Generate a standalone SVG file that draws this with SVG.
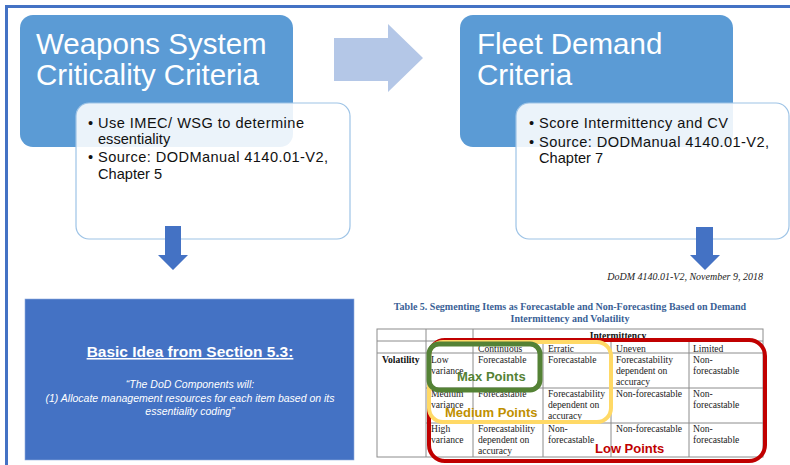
<svg xmlns="http://www.w3.org/2000/svg" width="790" height="465" viewBox="0 0 790 465">
<defs>
<style>
.head{fill:#5B9BD5}
.card{fill:#FFFFFF;fill-opacity:0.88;stroke:#9DC3E6;stroke-width:1.2}
.title{font-family:"Liberation Sans",Arial,sans-serif;font-size:29.5px;fill:#FFFFFF}
.bul{font-family:"Liberation Sans",Arial,sans-serif;font-size:14.6px;fill:#111111}
.dn{fill:#4472C4}
.tt{font-family:"Liberation Serif","Times New Roman",serif;font-size:9.6px;fill:#222222}
.tb{font-family:"Liberation Serif","Times New Roman",serif;font-size:9.6px;font-weight:bold;fill:#111111}
.cap{font-family:"Liberation Serif","Times New Roman",serif;font-size:10px;font-weight:bold;fill:#3A5F96}
.grid{stroke:#8C8C8C;stroke-width:1;fill:none}
.hl{fill:none}
.lab{font-family:"Liberation Sans",Arial,sans-serif;font-size:13px;font-weight:bold}
</style>
</defs>
<rect width="790" height="465" fill="#FFFFFF"/>
<!-- frame -->
<path d="M6.5,465 V6.5 H790" fill="none" stroke="#4472C4" stroke-width="3"/>

<g id="node-weapons">
<rect class="head" x="20" y="15" width="273" height="132" rx="13"/>
<text class="title" x="36" y="54">Weapons System</text>
<text class="title" x="36" y="85">Criticality Criteria</text>
</g>
<g id="node-weapons-detail">
<rect class="card" x="76" y="103" width="274" height="136" rx="13"/>
<text class="bul" x="88" y="128">•</text>
<text class="bul" x="98" y="128" textLength="206" lengthAdjust="spacing">Use IMEC/ WSG to determine</text>
<text class="bul" x="98" y="144">essentiality</text>
<text class="bul" x="88" y="162">•</text>
<text class="bul" x="98" y="162" textLength="230" lengthAdjust="spacing">Source: DODManual 4140.01-V2,</text>
<text class="bul" x="98" y="179">Chapter 5</text>
</g>

<g id="node-fleet">
<rect class="head" x="460" y="15" width="273" height="132" rx="13"/>
<text class="title" x="477" y="54">Fleet Demand</text>
<text class="title" x="477" y="85">Criteria</text>
</g>
<g id="node-fleet-detail">
<rect class="card" x="516" y="103" width="273" height="136" rx="13"/>
<text class="bul" x="529" y="128">•</text>
<text class="bul" x="539" y="128" textLength="189" lengthAdjust="spacing">Score Intermittency and CV</text>
<text class="bul" x="529" y="147">•</text>
<text class="bul" x="539" y="147" textLength="230" lengthAdjust="spacing">Source: DODManual 4140.01-V2,</text>
<text class="bul" x="539" y="163">Chapter 7</text>
</g>

<g id="connectors">
<polygon fill="#B4C7E7" points="334,38 388,38 388,24 423,58 388,92 388,81 334,81"/>
<polygon class="dn" points="165,226 181,226 181,255 188,255 173,270 158,255 165,255"/>
<polygon class="dn" points="696,227 713,227 713,255 720,255 705,270 690,255 696,255"/>
</g>

<g id="node-basic-idea">
<rect x="25" y="299" width="329" height="161" fill="#4472C4" stroke="#8FAADC" stroke-width="0.6"/>
<text x="190" y="357" text-anchor="middle" font-family="'Liberation Sans',Arial,sans-serif" font-size="15.5" font-weight="bold" fill="#FFFFFF" text-decoration="underline">Basic Idea from Section 5.3:</text>
<g font-family="'Liberation Sans',Arial,sans-serif" font-size="10.5" font-style="italic" fill="#FFFFFF" text-anchor="middle">
<text x="190" y="388">“The DoD Components will:</text>
<text x="190" y="402">(1) Allocate management resources for each item based on its</text>
<text x="190" y="415">essentiality coding”</text>
</g>
</g>

<g id="node-table">
<text x="763" y="280" text-anchor="end" font-family="'Liberation Serif','Times New Roman',serif" font-size="10" font-style="italic" fill="#222222">DoDM 4140.01-V2, November 9, 2018</text>
<text class="cap" x="570" y="310" text-anchor="middle">Table 5.  Segmenting Items as Forecastable and Non-Forecasting Based on Demand</text>
<text class="cap" x="570" y="322" text-anchor="middle">Intermittency and Volatility</text>
<rect class="grid" x="377" y="329" width="386" height="128"/>
<path class="grid" d="M377,341 H763 M426,353 H763 M377,353 H426 M426,388 H763 M426,423 H763 M426,329 V457 M473,329 V457 M543,341 V457 M611,341 V457 M689,341 V457"/>
<text class="tb" x="618" y="339" text-anchor="middle">Intermittency</text>
<text class="tt" x="478" y="352">Continuous</text>
<text class="tt" x="548" y="352">Erratic</text>
<text class="tt" x="616" y="352">Uneven</text>
<text class="tt" x="693" y="352">Limited</text>
<text class="tb" x="382" y="363">Volatility</text>
<text class="tt" x="431" y="363">Low</text>
<text class="tt" x="431" y="374">variance</text>
<text class="tt" x="478" y="363">Forecastable</text>
<text class="tt" x="548" y="363">Forecastable</text>
<text class="tt" x="616" y="363">Forecastability</text>
<text class="tt" x="616" y="374">dependent on</text>
<text class="tt" x="616" y="385">accuracy</text>
<text class="tt" x="693" y="363">Non-</text>
<text class="tt" x="693" y="374">forecastable</text>
<text class="tt" x="431" y="397">Medium</text>
<text class="tt" x="431" y="408">variance</text>
<text class="tt" x="478" y="397">Forecastable</text>
<text class="tt" x="548" y="397">Forecastability</text>
<text class="tt" x="548" y="408">dependent on</text>
<text class="tt" x="548" y="419">accuracy</text>
<text class="tt" x="616" y="397">Non-forecastable</text>
<text class="tt" x="693" y="397">Non-</text>
<text class="tt" x="693" y="408">forecastable</text>
<text class="tt" x="431" y="432">High</text>
<text class="tt" x="431" y="443">variance</text>
<text class="tt" x="478" y="432">Forecastability</text>
<text class="tt" x="478" y="443">dependent on</text>
<text class="tt" x="478" y="454">accuracy</text>
<text class="tt" x="548" y="432">Non-</text>
<text class="tt" x="548" y="443">forecastable</text>
<text class="tt" x="616" y="432">Non-forecastable</text>
<text class="tt" x="693" y="432">Non-</text>
<text class="tt" x="693" y="443">forecastable</text>
</g>

<g id="node-low-points">
<rect class="hl" x="429" y="340" width="336" height="121" rx="16" stroke="#C00000" stroke-width="4"/>
<text class="lab" x="595" y="453" fill="#C00000">Low Points</text>
</g>
<g id="node-medium-points">
<rect class="hl" x="429" y="342" width="182" height="80" rx="14" stroke="#FFD966" stroke-width="4"/>
<text class="lab" x="445" y="417" fill="#BF9000">Medium Points</text>
</g>
<g id="node-max-points">
<rect class="hl" x="429" y="344" width="111" height="46" rx="10" stroke="#548235" stroke-width="5"/>
<text class="lab" x="457" y="381" fill="#548235">Max Points</text>
</g>
</svg>
